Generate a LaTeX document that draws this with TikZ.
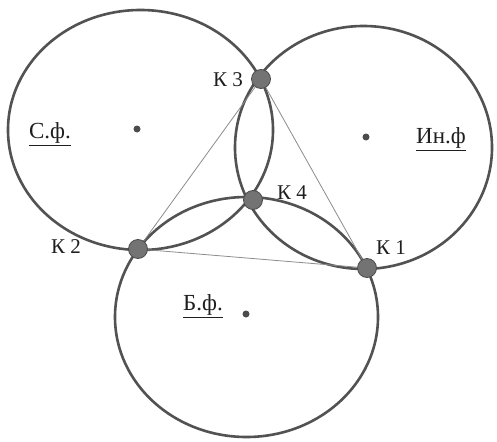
\documentclass[tikz,border=0pt]{standalone}
\usepackage{fontspec}
\setmainfont{Liberation Serif}
\begin{document}
\begin{tikzpicture}[x=1pt,y=-1pt,
  ring/.style={draw=black!68, line width=2.6pt},
  chord/.style={draw=black!45, line width=0.8pt},
  kpt/.style={circle, fill=black!55, draw=black!70, line width=0.8pt, minimum size=19pt, inner sep=0pt},
  cdot/.style={circle, fill=black!70, minimum size=7pt, inner sep=0pt},
  klabel/.style={font=\fontsize{21}{23}\selectfont, text=black!88, inner sep=0pt},
  flabel/.style={font=\fontsize{23}{26}\selectfont, text=black!88, inner sep=0pt}]
\useasboundingbox[fill=white] (0,0) rectangle (497,441);
% three ellipses
\draw[ring] (140.5,130) ellipse [x radius=132.5pt, y radius=120pt];
\draw[ring] (363.5,147.5) ellipse [x radius=128.5pt, y radius=121.5pt];
\draw[ring] (246.5,317) ellipse [x radius=131.5pt, y radius=120pt];
% centre dots
\node[cdot] (cl) at (137,129) {};
\node[cdot] (cr) at (366,137) {};
\node[cdot] (cb) at (246,314) {};
% intersection points
\node[kpt] (k1) at (367,268) {};
\node[kpt] (k2) at (138,249) {};
\node[kpt] (k3) at (261,79) {};
\node[kpt] (k4) at (253,200) {};
% triangle
\draw[chord] (k2) -- (k3);
\draw[chord] (k3) -- (k1);
\draw[chord] (k2) -- (k1);
% labels
\node[klabel] (l3) at (228,80) {К 3};
\node[klabel] (l4) at (292,193) {К 4};
\node[klabel] (l2) at (66,247) {К 2};
\node[klabel] (l1) at (391,248) {К 1};
\node[flabel] (ls) at (50,134) {\underline{С.ф.}};
\node[flabel] (li) at (441,139) {\underline{Ин.ф}};
\node[flabel] (lb) at (203,306) {\underline{Б.ф.}};
\end{tikzpicture}
\end{document}
